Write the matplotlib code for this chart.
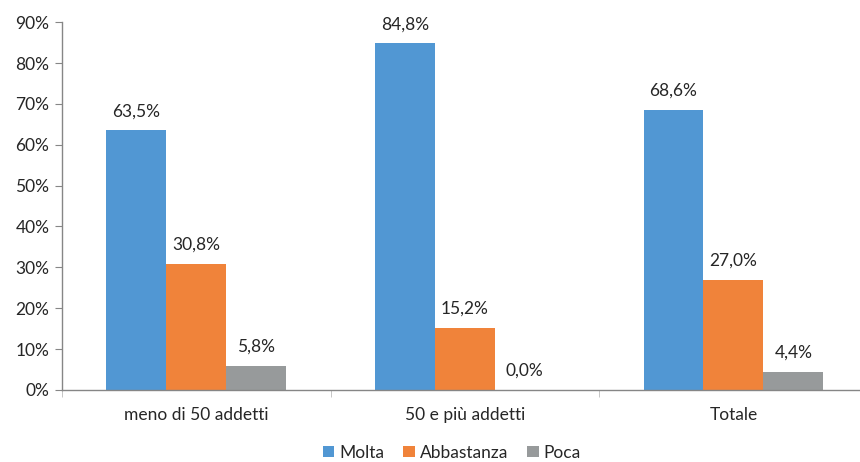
import matplotlib.pyplot as plt
import numpy as np

plt.rcParams['font.family'] = ['Lato', 'DejaVu Sans']

categorie = ['meno di 50 addetti', '50 e più addetti', 'Totale']
serie = ['Molta', 'Abbastanza', 'Poca']
molta = [63.5, 84.8, 68.6]
abbastanza = [30.8, 15.2, 27.0]
poca = [5.8, 0.0, 4.4]
colori = ['#5197D3', '#F0833A', '#979A9B']

fig = plt.figure(figsize=(8.6, 4.62), dpi=100)
# l'asse x esce leggermente a destra, come nell'originale
ax = fig.add_axes([0.072, 0.156, 0.937, 0.796])

x = np.arange(len(categorie))
w = 0.223
for i, (nome, valori) in enumerate(zip(serie, [molta, abbastanza, poca])):
    pos = x + (i - 1) * w
    ax.bar(pos, valori, width=w, color=colori[i], label=nome)
    for p, v in zip(pos, valori):
        ax.annotate(('%.1f%%' % v).replace('.', ','), (p, v),
                    xytext=(0, 8), textcoords='offset points',
                    ha='center', va='bottom', fontsize=12.5, color='#262626')

ax.set_xlim(-0.5, 2.5)
ax.set_ylim(0, 90)
ax.set_yticks(range(0, 91, 10))
ax.set_yticklabels(['%d%%' % t for t in range(0, 91, 10)])
ax.set_xticks(x)
ax.set_xticklabels(categorie)
ax.set_xticks([-0.5, 0.5, 1.5, 2.5], minor=True)
ax.tick_params(axis='x', which='major', length=0, pad=12, labelsize=12.5, labelcolor='#262626')
ax.tick_params(axis='x', which='minor', length=5, color='#BDBDBD', direction='out')
ax.tick_params(axis='y', length=5, color='#868686', labelsize=12.5, labelcolor='#262626', pad=4)

for s in ['top', 'right']:
    ax.spines[s].set_visible(False)
for s in ['left', 'bottom']:
    ax.spines[s].set_color('#868686')
    ax.spines[s].set_linewidth(1)

ax.legend(loc='lower center', bbox_to_anchor=(0.484, -0.235), ncol=3, frameon=False,
          fontsize=12.5, handlelength=0.65, handleheight=0.65, handletextpad=0.3,
          columnspacing=1.1, labelcolor='#262626')

fig.savefig('out.png', dpi=100)
